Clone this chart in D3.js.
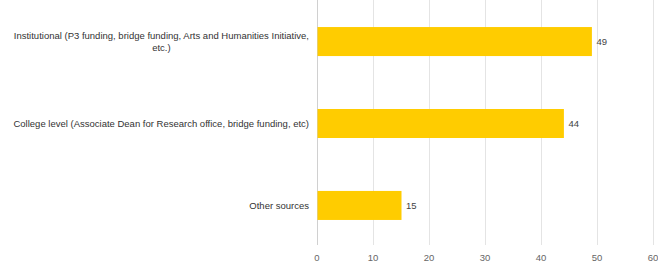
<!DOCTYPE html>
<html>
<head>
<meta charset="utf-8">
<script src="https://cdn.jsdelivr.net/npm/d3@7"></script>
<style>
  body { margin: 0; background: #fff; }
  svg { display: block; font-family: "Liberation Sans", Arial, sans-serif; }
</style>
</head>
<body>
<svg id="chart" width="658" height="264"></svg>
<script>
const categories = [
  'Institutional (P3 funding, bridge funding, Arts and Humanities Initiative, etc.)',
  'College level (Associate Dean for Research office, bridge funding, etc)',
  'Other sources'
];
const values = [49, 44, 15];
const xTicks = [0, 10, 20, 30, 40, 50, 60];

const svg = d3.select('#chart');
const plotLeft = 317, plotRight = 653, plotTop = 0, plotBottom = 247;
const fontSize = '9.5px';

const x = d3.scaleLinear().domain([0, 60]).range([plotLeft, plotRight]);
const y = d3.scaleBand()
  .domain(categories)
  .range([plotTop, plotBottom])
  .paddingInner(0.646)
  .paddingOuter(0.33);

// gridlines
svg.append('g')
  .selectAll('line')
  .data(xTicks)
  .enter()
  .append('line')
  .attr('x1', (d) => Math.round(x(d)) + 0.5)
  .attr('x2', (d) => Math.round(x(d)) + 0.5)
  .attr('y1', 0)
  .attr('y2', 245)
  .attr('stroke', (d) => (d === 0 ? '#d0d0d0' : '#e4e4e4'))
  .attr('stroke-width', 1);

// tick labels
svg.append('g')
  .selectAll('text')
  .data(xTicks)
  .enter()
  .append('text')
  .attr('x', (d) => x(d))
  .attr('y', 261)
  .attr('text-anchor', 'middle')
  .attr('font-size', fontSize)
  .attr('fill', '#666')
  .text((d) => d);

// bars
svg.append('g')
  .selectAll('rect')
  .data(values)
  .enter()
  .append('rect')
  .attr('x', x(0) + 0.5)
  .attr('y', (d, i) => y(categories[i]))
  .attr('width', (d) => x(d) - x(0))
  .attr('height', y.bandwidth())
  .attr('fill', '#ffcc00');

// value labels
svg.append('g')
  .selectAll('text')
  .data(values)
  .enter()
  .append('text')
  .attr('x', (d) => x(d) + 5)
  .attr('y', (d, i) => y(categories[i]) + y.bandwidth() / 2 + 3.5)
  .attr('font-size', fontSize)
  .attr('fill', '#444')
  .text((d) => d);

// category labels, wrapped, lines centred within a right-aligned block
const labelRight = 309;
const maxWidth = 300;
const lineHeight = 12;
const labelG = svg.append('g');
categories.forEach((cat) => {
  const t = labelG.append('text')
    .attr('font-size', fontSize)
    .attr('fill', '#333');
  const words = cat.split(' ');
  const lines = [];
  let line = [];
  const probe = t.append('tspan');
  words.forEach((w) => {
    line.push(w);
    probe.text(line.join(' '));
    if (probe.node().getComputedTextLength() > maxWidth && line.length > 1) {
      line.pop();
      lines.push(line.join(' '));
      line = [w];
    }
  });
  lines.push(line.join(' '));
  probe.remove();

  let widest = 0;
  const spans = lines.map((l) => {
    const s = t.append('tspan').text(l);
    widest = Math.max(widest, s.node().getComputedTextLength());
    return s;
  });
  const cx = labelRight - widest / 2;
  const cy = y(cat) + y.bandwidth() / 2;
  const firstY = cy + 3.5 - ((lines.length - 1) * lineHeight) / 2;
  spans.forEach((s, i) => {
    s.attr('x', cx).attr('y', firstY + i * lineHeight).attr('text-anchor', 'middle');
  });
});
</script>
</body>
</html>
